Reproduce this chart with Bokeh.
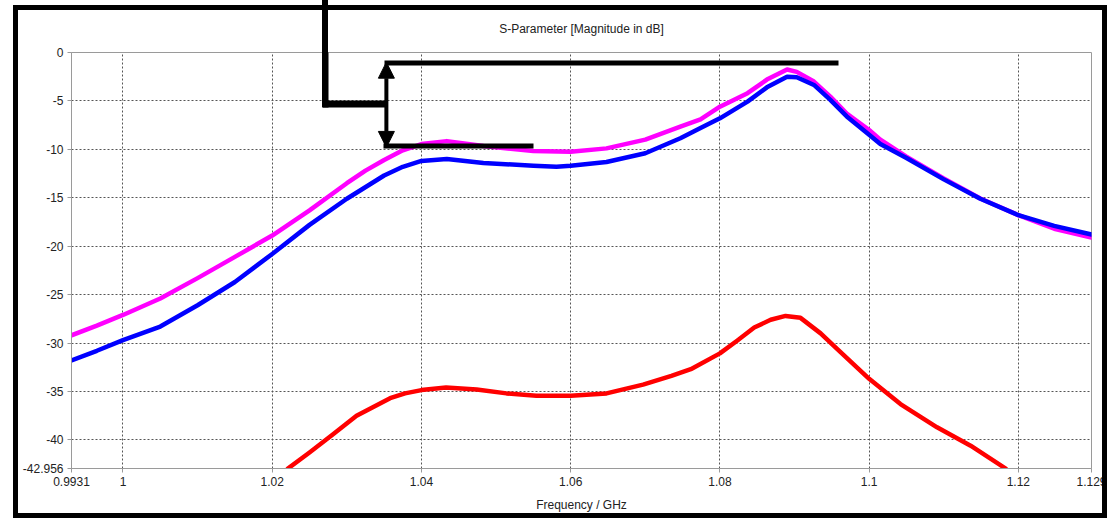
from bokeh.plotting import figure
from bokeh.models import Range1d, FixedTicker, BoxAnnotation, Arrow, NormalHead, InlineStyleSheet
from bokeh.embed import file_html
from bokeh.resources import INLINE

title_text = "S-Parameter [Magnitude in dB]"
x_label = "Frequency / GHz"
x_ticks = [0.9931, 1.0, 1.02, 1.04, 1.06, 1.08, 1.1, 1.12, 1.1298]
x_tick_labels = ["0.9931", "1", "1.02", "1.04", "1.06", "1.08", "1.1", "1.12", "1.129"]
y_ticks = [-42.956, -40, -35, -30, -25, -20, -15, -10, -5, 0]
y_tick_labels = ["-42.956", "-40", "-35", "-30", "-25", "-20", "-15", "-10", "-5", "0"]

magenta_freq = [0.9931, 0.9965, 1.0, 1.005, 1.01, 1.015, 1.02, 1.025, 1.03, 1.0325, 1.035,
                1.0375, 1.04, 1.0434, 1.0483, 1.055, 1.06, 1.0648, 1.07, 1.0747, 1.0774,
                1.08, 1.0837, 1.0863, 1.089, 1.0903, 1.0926, 1.0948, 1.097, 1.1, 1.1015,
                1.105, 1.11, 1.1149, 1.12, 1.1248, 1.1298]
magenta_db = [-29.2, -28.2, -27.1, -25.4, -23.3, -21.1, -18.9, -16.3, -13.5, -12.2, -11.1,
              -10.1, -9.45, -9.15, -9.65, -10.17, -10.24, -9.9, -9.0, -7.66, -6.9,
              -5.6, -4.2, -2.8, -1.75, -2.0, -3.0, -4.55, -6.3, -8.0, -9.0,
              -10.76, -13.0, -15.07, -16.8, -18.2, -19.1]

blue_freq = [0.9931, 0.9965, 1.0, 1.005, 1.01, 1.015, 1.02, 1.025, 1.03, 1.035, 1.0375,
             1.04, 1.0434, 1.0483, 1.055, 1.0581, 1.06, 1.0648, 1.07, 1.0747, 1.0774,
             1.08, 1.0837, 1.0863, 1.089, 1.0903, 1.0926, 1.0948, 1.097, 1.1, 1.1015,
             1.105, 1.11, 1.1149, 1.12, 1.1248, 1.1298]
blue_db = [-31.8, -30.8, -29.7, -28.3, -26.1, -23.7, -20.8, -17.8, -15.1, -12.7, -11.8,
           -11.2, -11.0, -11.4, -11.7, -11.8, -11.7, -11.3, -10.4, -8.86, -7.8,
           -6.8, -5.07, -3.6, -2.5, -2.55, -3.35, -4.9, -6.6, -8.5, -9.45,
           -10.9, -13.1, -15.1, -16.8, -17.9, -18.8]

red_freq = [1.0221, 1.025, 1.0282, 1.0313, 1.0358, 1.0378, 1.04, 1.0433, 1.0474, 1.0514,
            1.0554, 1.06, 1.0648, 1.0697, 1.0735, 1.0761, 1.08, 1.0823, 1.0846, 1.0868,
            1.0888, 1.0908, 1.0935, 1.0957, 1.1, 1.1042, 1.1091, 1.1136, 1.1183]
red_db = [-42.96, -41.3, -39.4, -37.5, -35.7, -35.2, -34.86, -34.6, -34.8, -35.2,
          -35.45, -35.45, -35.2, -34.3, -33.4, -32.7, -31.07, -29.76, -28.4, -27.6,
          -27.2, -27.4, -29.0, -30.6, -33.7, -36.3, -38.7, -40.6, -42.96]

FONT = "Liberation Sans"

p = figure(width=1113, height=518, output_backend="svg", toolbar_location=None,
           x_range=Range1d(x_ticks[0], x_ticks[-1]), y_range=Range1d(y_ticks[0], y_ticks[-1]),
           min_border_left=71, min_border_right=22, min_border_top=52, min_border_bottom=50,
           title=title_text, background_fill_color="white", border_fill_color="white")

p.title.align = "center"
p.title.text_font = FONT
p.title.text_font_size = "12px"
p.title.text_font_style = "normal"
p.title.text_color = "#222222"
p.title.standoff = 34

p.outline_line_color = "#9a9a9a"
p.outline_line_width = 1

for ax, ticks, labels in ((p.xaxis[0], x_ticks, x_tick_labels), (p.yaxis[0], y_ticks, y_tick_labels)):
    ax.ticker = FixedTicker(ticks=ticks, minor_ticks=[])
    ax.major_label_overrides = dict(zip(ticks, labels))
    ax.axis_line_color = "#9a9a9a"
    ax.major_tick_line_color = "#9a9a9a"
    ax.major_tick_out = 4
    ax.major_tick_in = 0
    ax.minor_tick_line_color = None
    ax.major_label_text_font = FONT
    ax.major_label_text_font_size = "12px"
    ax.major_label_text_color = "#222222"
    ax.major_label_standoff = 4

p.xaxis.axis_label = x_label
p.xaxis.axis_label_text_font = FONT
p.xaxis.axis_label_text_font_size = "12px"
p.xaxis.axis_label_text_font_style = "normal"
p.xaxis.axis_label_text_color = "#222222"
p.xaxis.axis_label_standoff = 9

p.xgrid.ticker = FixedTicker(ticks=x_ticks[1:-1], minor_ticks=[])
p.ygrid.ticker = FixedTicker(ticks=y_ticks[1:-1], minor_ticks=[])
for g in (p.xgrid[0], p.ygrid[0]):
    g.grid_line_color = "#555555"
    g.grid_line_dash = "2 2"
    g.grid_line_width = 1

p.line(magenta_freq, magenta_db, line_color="#ff00ff", line_width=4.5, line_join="round", line_cap="round")
p.line(blue_freq, blue_db, line_color="#0000ff", line_width=4.5, line_join="round", line_cap="round")
p.line(red_freq, red_db, line_color="#ff0000", line_width=4.5, line_join="round", line_cap="round")

# marker lines inside the plot area (canvas pixels)
bars = [
    (322, 328, 40, 107),   # vertical leader (inside part)
    (322, 387, 100, 107),  # leader connector
    (384, 838, 60, 65),    # upper level line
    (383, 533, 143, 148),  # lower level line
]
for l, r, t, b in bars:
    p.add_layout(BoxAnnotation(left=l, right=r, top=t, bottom=b,
                               left_units="canvas", right_units="canvas",
                               top_units="canvas", bottom_units="canvas",
                               fill_color="black", fill_alpha=1.0, line_color=None,
                               level="overlay"))

p.add_layout(Arrow(start=NormalHead(size=16, fill_color="black", line_color="black"),
                   end=NormalHead(size=16, fill_color="black", line_color="black"),
                   x_start=1.0353, y_start=-1.0, x_end=1.0353, y_end=-9.8,
                   line_width=4, line_color="black"))

# outer black frame and the leader part above the plot area
p.stylesheets = [InlineStyleSheet(css="""
:host { position: relative; }
:host::before {
  content: ""; position: absolute; left: 13px; top: 5px; width: 1094px; height: 513px;
  border: 5px solid black; box-sizing: border-box; pointer-events: none; z-index: 100;
}
:host::after {
  content: ""; position: absolute; left: 322px; top: 0px; width: 6px; height: 107px;
  background: black; pointer-events: none; z-index: 101;
}
""")]

open("out.html", "w").write(file_html(p, INLINE))
